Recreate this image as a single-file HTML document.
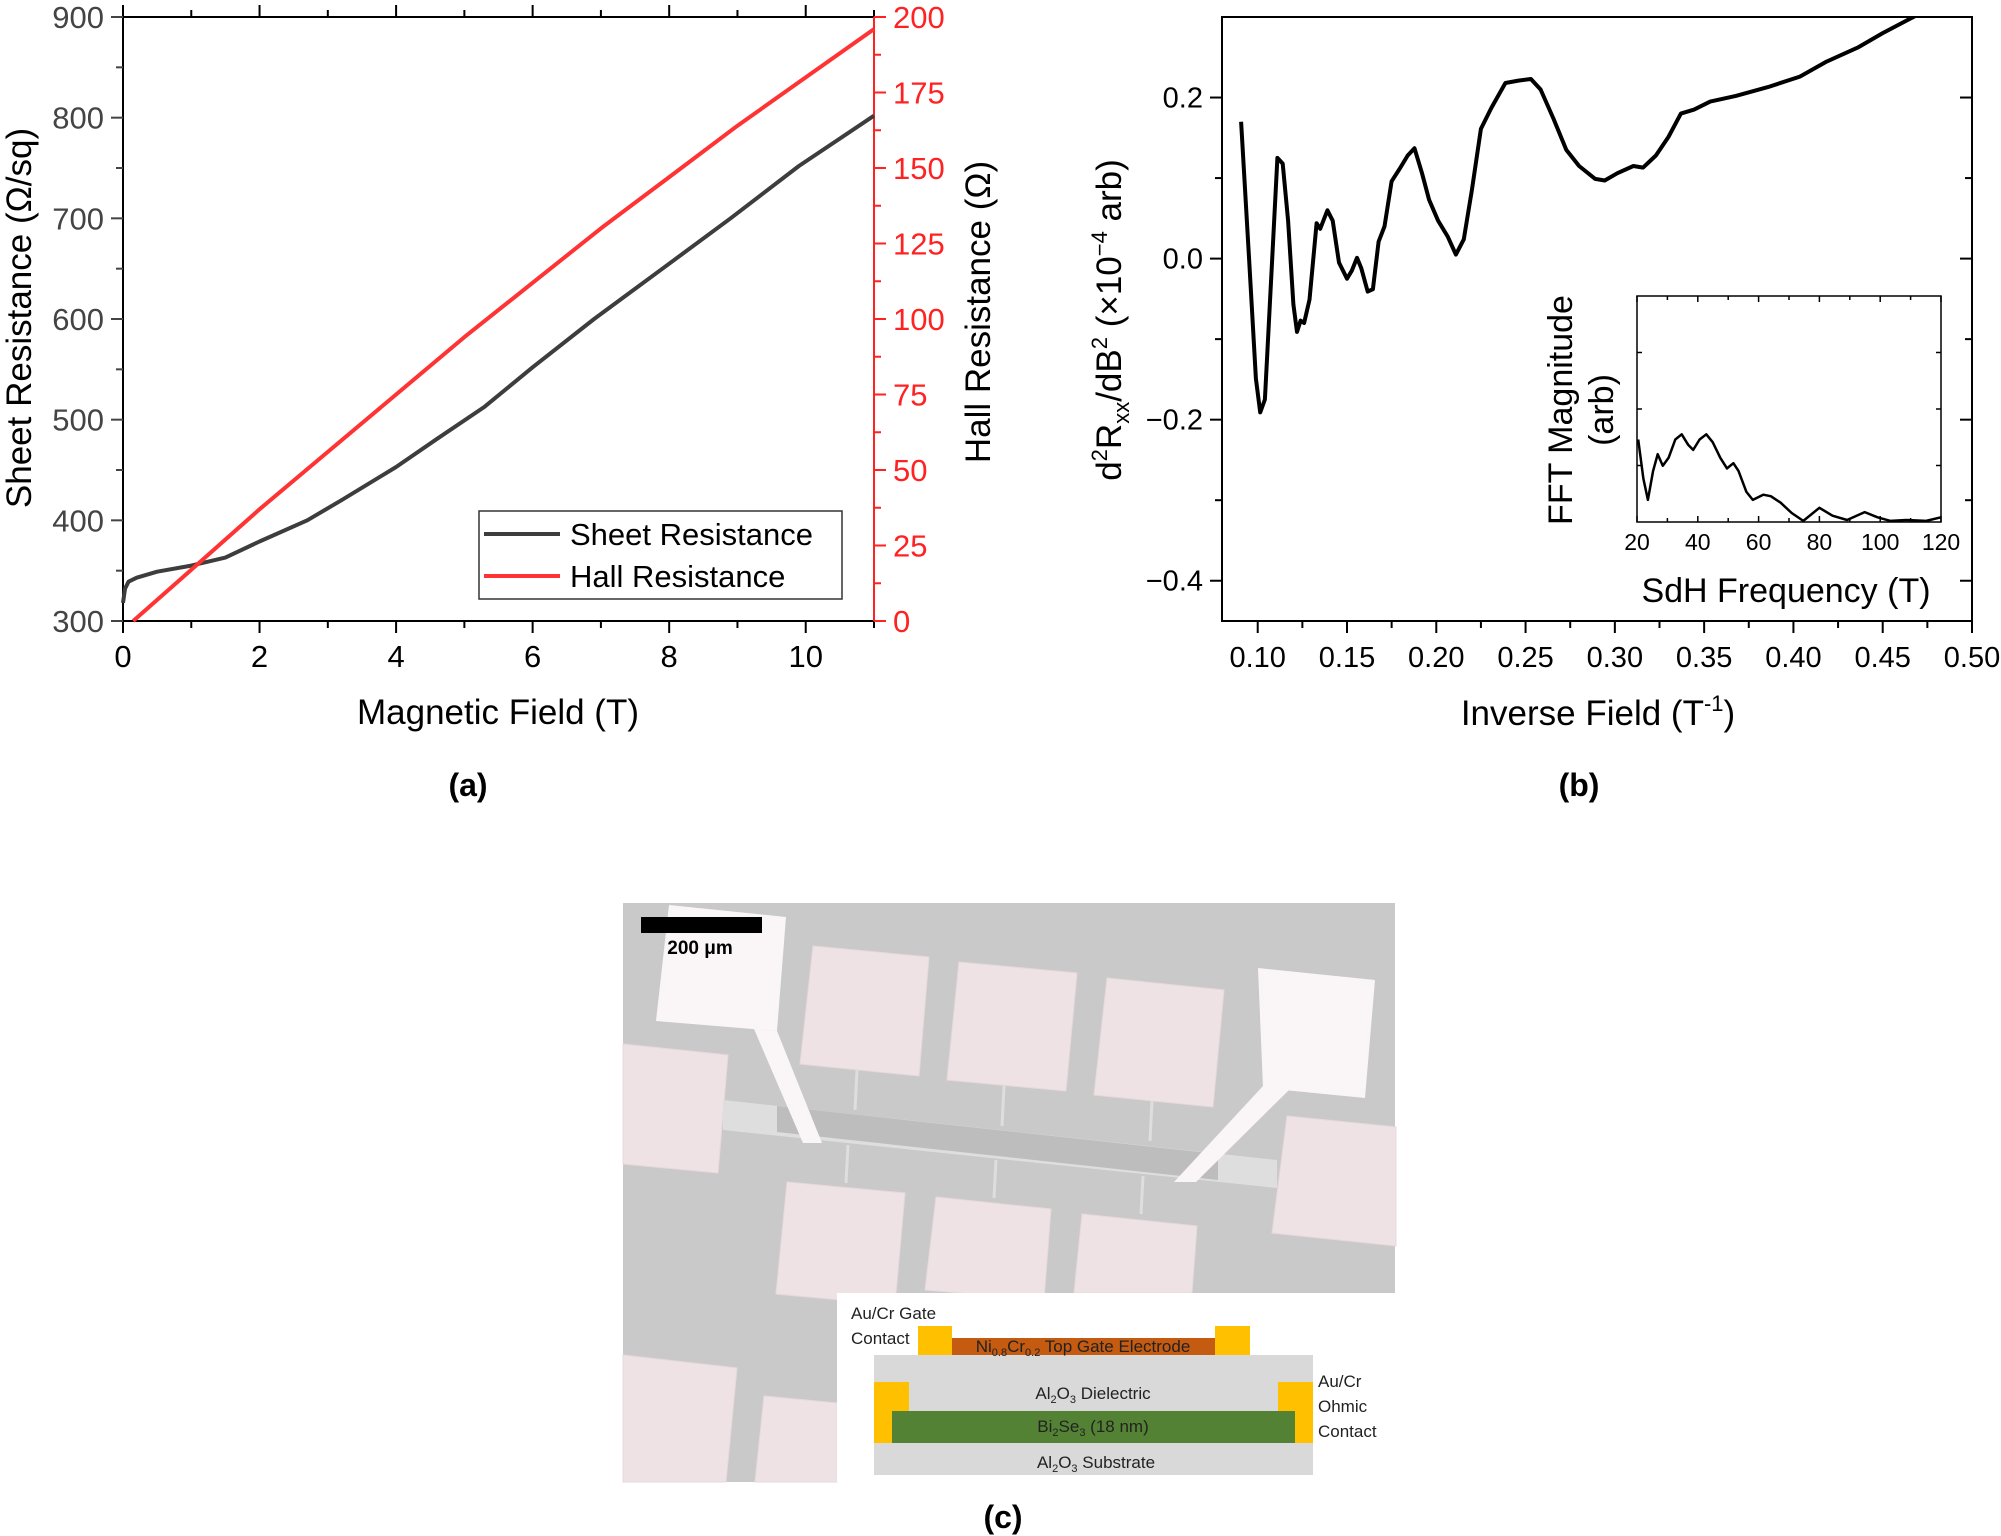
<!DOCTYPE html>
<html><head><meta charset="utf-8">
<style>
html,body{margin:0;padding:0;background:#fff;}
svg{display:block;font-family:"Liberation Sans",sans-serif;}
</style></head>
<body>
<svg id="fig" width="2001" height="1536" viewBox="0 0 2001 1536" xmlns="http://www.w3.org/2000/svg">
<g id="pa"></g>
<g id="pb"></g>
<g id="pc">
  <rect x="623" y="903" width="772" height="579" fill="#c9c9c9"/>
  <g fill="#eee2e4" stroke="#e6d9dc" stroke-width="1">
    <polygon points="623,1044 728,1055 718,1173 623,1164"/>
    <polygon points="1287,1116 1396,1127 1396,1246 1272,1233"/>
    <polygon points="813,946 929,957 919,1076 800,1064"/>
    <polygon points="959,962 1077,973 1066,1091 947,1080"/>
    <polygon points="1107,978 1224,990 1213,1107 1094,1095"/>
    <polygon points="787,1182 905,1193 895,1305 776,1294"/>
    <polygon points="936,1197 1051,1209 1044,1300 925,1290"/>
    <polygon points="1082,1214 1197,1226 1192,1293 1074,1293"/>
    <polygon points="623,1355 737,1368 726,1482 623,1482"/>
    <polygon points="764,1396 837,1403 837,1482 755,1482"/>
  </g>
  <g>
    <polygon points="723,1100 1277,1160 1277,1188 723,1130" fill="#dedede"/>
    <polygon points="777,1106 1218,1154 1218,1180 777,1132" fill="#bdbdbd"/>
    <g stroke="#dedede" stroke-width="3">
      <line x1="857" y1="1070" x2="855" y2="1110"/><line x1="1004" y1="1086" x2="1002" y2="1126"/><line x1="1152" y1="1101" x2="1150" y2="1141"/>
      <line x1="848" y1="1145" x2="846" y2="1183"/><line x1="996" y1="1160" x2="994" y2="1198"/><line x1="1143" y1="1176" x2="1141" y2="1214"/>
    </g>
  </g>
  <g fill="#faf6f7">
    <polygon points="669,905 786,917 777,1031 656,1021"/>
    <polygon points="754,1029 777,1031 822,1143 803,1143"/>
    <polygon points="1258,968 1375,980 1365,1098 1263,1088"/>
    <polygon points="1263,1086 1290,1089 1196,1182 1174,1182"/>
  </g>
  <rect x="641" y="917" width="121" height="16" fill="#000"/>
  <text x="700" y="954" font-size="19" font-weight="bold" text-anchor="middle">200 μm</text>
  <rect x="837" y="1293" width="558" height="189" fill="#fff"/>
  <rect x="874" y="1355" width="439" height="120" fill="#d9d9d9"/>
  <rect x="874" y="1382" width="35" height="61" fill="#ffc000"/>
  <rect x="1278" y="1382" width="35" height="61" fill="#ffc000"/>
  <rect x="892" y="1411" width="403" height="32" fill="#548235"/>
  <rect x="918" y="1326" width="34" height="29" fill="#ffc000"/>
  <rect x="1215" y="1326" width="35" height="29" fill="#ffc000"/>
  <rect x="952" y="1338" width="263" height="17" fill="#c55a11"/>
  <g font-size="17" fill="#222">
    <text x="1083" y="1352" text-anchor="middle">Ni<tspan font-size="11" dy="4">0.8</tspan><tspan dy="-4">Cr</tspan><tspan font-size="11" dy="4">0.2</tspan><tspan dy="-4"> Top Gate Electrode</tspan></text>
    <text x="1093" y="1399" text-anchor="middle">Al<tspan font-size="11" dy="4">2</tspan><tspan dy="-4">O</tspan><tspan font-size="11" dy="4">3</tspan><tspan dy="-4"> Dielectric</tspan></text>
    <text x="1093" y="1432" text-anchor="middle">Bi<tspan font-size="11" dy="4">2</tspan><tspan dy="-4">Se</tspan><tspan font-size="11" dy="4">3</tspan><tspan dy="-4"> (18 nm)</tspan></text>
    <text x="1096" y="1468" text-anchor="middle">Al<tspan font-size="11" dy="4">2</tspan><tspan dy="-4">O</tspan><tspan font-size="11" dy="4">3</tspan><tspan dy="-4"> Substrate</tspan></text>
    <text x="851" y="1319">Au/Cr Gate</text>
    <text x="851" y="1344">Contact</text>
    <text x="1318" y="1387">Au/Cr</text>
    <text x="1318" y="1412">Ohmic</text>
    <text x="1318" y="1437">Contact</text>
  </g>
  <text x="1003" y="1528" font-size="32" font-weight="bold" text-anchor="middle">(c)</text>
</g>
</svg>
<script>
// Panel (a) data
const aFieldSheet = [0,0.03,0.08,0.2,0.5,1,1.5,2,2.7,3.2,4,4.6,5.3,6,6.9,7.9,8.9,9.9,11];
const aSheet = [318,332,339,343,349,355,363,379,400,420,453,481,513,552,600,650,700,752,802];
const aFieldHall = [0.15,1,2,3,4,5,6,7,8,9,10,11];
const aHall = [0,17,37,56,75,94,112,130,147,164,180,196];
const aXTicks = [0,2,4,6,8,10];
const aYLeftTicks = [300,400,500,600,700,800,900];
const aYRightTicks = [0,25,50,75,100,125,150,175,200];
// Panel (b) data
const bX = [0.0907,0.0953,0.099,0.1014,0.104,0.108,0.111,0.114,0.117,0.120,0.122,0.124,0.126,0.129,0.133,0.135,0.139,0.142,0.1455,0.150,0.1527,0.1556,0.158,0.1616,0.1645,0.1677,0.171,0.175,0.1796,0.184,0.1878,0.192,0.196,0.201,0.2065,0.211,0.2154,0.220,0.225,0.2308,0.2387,0.246,0.253,0.2584,0.2656,0.2728,0.28,0.289,0.2943,0.3014,0.3104,0.3158,0.323,0.330,0.337,0.3444,0.3534,0.3677,0.3857,0.4036,0.418,0.436,0.450,0.468];
const bY = [0.170,-0.005,-0.149,-0.191,-0.175,-0.005,0.125,0.118,0.047,-0.057,-0.091,-0.077,-0.080,-0.051,0.044,0.037,0.060,0.047,-0.005,-0.025,-0.015,0.001,-0.012,-0.041,-0.038,0.021,0.040,0.096,0.112,0.128,0.137,0.106,0.073,0.047,0.027,0.005,0.024,0.086,0.161,0.187,0.218,0.221,0.223,0.210,0.174,0.135,0.115,0.099,0.097,0.106,0.115,0.113,0.128,0.151,0.180,0.185,0.195,0.202,0.213,0.226,0.244,0.262,0.280,0.301];
const bXTicks = [0.10,0.15,0.20,0.25,0.30,0.35,0.40,0.45,0.50];
const bYTicks = [-0.4,-0.2,0.0,0.2];
const fftFreq = [20.4,22.1,23.6,25.3,26.8,28.5,30.4,32.6,34.7,36.8,38.5,40.6,42.8,44.9,47.4,49.6,51.7,53.4,56,58.1,61.5,64,67.2,70.9,74.7,80,84.3,89.1,94.9,99.1,103.4,108.7,115.1,120];
const fftMag = [3.65,1.91,0.98,2.26,3.0,2.49,2.84,3.65,3.88,3.42,3.19,3.65,3.88,3.53,2.84,2.37,2.6,2.26,1.33,0.98,1.21,1.14,0.86,0.4,0.05,0.63,0.28,0.09,0.44,0.21,0.05,0.09,0.05,0.21];
const fftTicks = [20,40,60,80,100,120];

const NS = "http://www.w3.org/2000/svg";
function mk(parent, tag, attrs, text){
  const e = document.createElementNS(NS, tag);
  for (const k in attrs) e.setAttribute(k, attrs[k]);
  if (text !== undefined) e.textContent = text;
  parent.appendChild(e);
  return e;
}
function lin(d0,d1,p0,p1){ return v => p0 + (v-d0)/(d1-d0)*(p1-p0); }
function pathD(xs, ys, fx, fy){ return xs.map((v,i)=>(i?'L':'M')+fx(v).toFixed(1)+','+fy(ys[i]).toFixed(1)).join(''); }

// ---------- Panel A ----------
const pa = document.getElementById('pa');
const aL=123, aR=874, aT=17, aB=621;
const ax = lin(0,11,aL,aR), ayL = lin(300,900,aB,aT), ayR = lin(0,200,aB,aT);
let e;
e = mk(pa,'rect',{x:aL,y:aT,width:aR-aL,height:aB-aT,fill:'none',stroke:'#000','stroke-width':2});


for (let v=0; v<=11; v++){
  const major = aXTicks.includes(v);
  e = mk(pa,'line',{x1:ax(v),x2:ax(v),y1:aB,y2:aB+(major?12:7),stroke:'#000','stroke-width':2});
  
  
  e = mk(pa,'line',{x1:ax(v),x2:ax(v),y1:aT,y2:aT-(major?12:7),stroke:'#000','stroke-width':2});
  
  
}
aXTicks.forEach(v=>{
  e = mk(pa,'text',{x:ax(v),y:667,'font-size':31,'text-anchor':'middle'},String(v));
  
  
});
for (let v=300; v<=900; v+=50){
  const major = v%100===0;
  e = mk(pa,'line',{x1:aL,x2:aL-(major?12:7),y1:ayL(v),y2:ayL(v),stroke:'#444','stroke-width':2});
  
  
}
aYLeftTicks.forEach(v=>{
  e = mk(pa,'text',{x:104,y:ayL(v)+11,'font-size':31,'text-anchor':'end',fill:'#444'},String(v));
  
  
});
e = mk(pa,'line',{x1:aR,x2:aR,y1:aT,y2:aB,stroke:'#f22','stroke-width':2});


for (let v=0; v<=200; v+=12.5){
  const major = v%25===0;
  e = mk(pa,'line',{x1:aR,x2:aR+(major?12:7),y1:ayR(v),y2:ayR(v),stroke:'#f22','stroke-width':2});
  
  
}
aYRightTicks.forEach(v=>{
  e = mk(pa,'text',{x:893,y:ayR(v)+11,'font-size':31,'text-anchor':'start',fill:'#f22'},String(v));
  
  
});
e = mk(pa,'path',{d:pathD(aFieldSheet,aSheet,ax,ayL),fill:'none',stroke:'#3d3d3d','stroke-width':4,'stroke-linejoin':'round'});


e = mk(pa,'path',{d:pathD(aFieldHall,aHall,ax,ayR),fill:'none',stroke:'#f33','stroke-width':4,'stroke-linejoin':'round'});


e = mk(pa,'rect',{x:479,y:511,width:363,height:88,fill:'#fff',stroke:'#333','stroke-width':1.5});


e = mk(pa,'line',{x1:484,x2:560,y1:534,y2:534,stroke:'#3d3d3d','stroke-width':4});


e = mk(pa,'text',{x:570,y:545,'font-size':31},'Sheet Resistance');


e = mk(pa,'line',{x1:484,x2:560,y1:576,y2:576,stroke:'#f33','stroke-width':4});


e = mk(pa,'text',{x:570,y:587,'font-size':31},'Hall Resistance');


e = mk(pa,'text',{x:498,y:724,'font-size':35,'text-anchor':'middle'},'Magnetic Field (T)');


e = mk(pa,'text',{x:0,y:0,'font-size':35,'text-anchor':'middle',transform:'translate(31,318) rotate(-90)'},'Sheet Resistance (Ω/sq)');


e = mk(pa,'text',{x:0,y:0,'font-size':35,'text-anchor':'middle',transform:'translate(990,312) rotate(-90)'},'Hall Resistance (Ω)');


e = mk(pa,'text',{x:468,y:796,'font-size':32,'font-weight':'bold','text-anchor':'middle'},'(a)');



// ---------- Panel B ----------
const pb = document.getElementById('pb');
const bL=1222, bR=1972, bT=17, bB=621;
const bx = lin(0.08,0.50,bL,bR), by = lin(-0.45,0.3,bB,bT);
e = mk(pb,'rect',{x:bL,y:bT,width:bR-bL,height:bB-bT,fill:'none',stroke:'#000','stroke-width':2});


for (let i=0;i<=16;i++){
  const v = 0.10 + i*0.025; const major = i%2===0;
  e = mk(pb,'line',{x1:bx(v),x2:bx(v),y1:bB,y2:bB+(major?12:7),stroke:'#000','stroke-width':2});
  
  
}
bXTicks.forEach(v=>{
  e = mk(pb,'text',{x:bx(v),y:667,'font-size':29,'text-anchor':'middle'},v.toFixed(2));
  
  
});
for (let i=0;i<=6;i++){
  const v = -0.4 + i*0.1; const major = i%2===0;
  e = mk(pb,'line',{x1:bL,x2:bL-(major?12:7),y1:by(v),y2:by(v),stroke:'#000','stroke-width':2});
  
  
  e = mk(pb,'line',{x1:bR,x2:bR-(major?12:7),y1:by(v),y2:by(v),stroke:'#000','stroke-width':2});
  
  
}
bYTicks.forEach(v=>{
  e = mk(pb,'text',{x:1203,y:by(v)+10,'font-size':29,'text-anchor':'end'},(v<0?'\u2212':'')+Math.abs(v).toFixed(1));
  
  
});
const clipB = mk(pb,'clipPath',{id:'clipb'});
mk(clipB,'rect',{x:bL,y:bT,width:bR-bL,height:bB-bT});
e = mk(pb,'path',{d:pathD(bX,bY,bx,by),fill:'none',stroke:'#000','stroke-width':4,'stroke-linejoin':'round','clip-path':'url(#clipb)'});


e = mk(pb,'text',{x:1598,y:725,'font-size':35,'text-anchor':'middle'},'');
e.innerHTML = 'Inverse Field (T<tspan font-size="22" dy="-14">-1</tspan><tspan dy="14">)</tspan>';


e = mk(pb,'text',{x:0,y:0,'font-size':35,'text-anchor':'middle',transform:'translate(1121,320) rotate(-90)'},'');
e.innerHTML = 'd<tspan font-size="22" dy="-14">2</tspan><tspan dy="14">R</tspan><tspan font-size="22" dy="8">xx</tspan><tspan dy="-8">/dB</tspan><tspan font-size="22" dy="-14">2</tspan><tspan dy="14"> (×10</tspan><tspan font-size="22" dy="-14">−4</tspan><tspan dy="14"> arb)</tspan>';


e = mk(pb,'text',{x:1579,y:796,'font-size':32,'font-weight':'bold','text-anchor':'middle'},'(b)');



// Inset
const iL=1637, iR=1941, iT=296, iB=522;
const ix = lin(20,120,iL,iR), iy = lin(0,10,iB,iT);
e = mk(pb,'rect',{x:iL,y:iT,width:iR-iL,height:iB-iT,fill:'#fff',stroke:'#000','stroke-width':1.5});


for (let v=20; v<=120; v+=10){
  const major = v%20===0;
  e = mk(pb,'line',{x1:ix(v),x2:ix(v),y1:iB,y2:iB-(major?6:4),stroke:'#000','stroke-width':1.5});
  
  
  e = mk(pb,'line',{x1:ix(v),x2:ix(v),y1:iT,y2:iT+(major?6:4),stroke:'#000','stroke-width':1.5});
  
  
}
for (let i=1;i<=3;i++){
  const yy = iB - i*(iB-iT)/4;
  e = mk(pb,'line',{x1:iL,x2:iL+5,y1:yy,y2:yy,stroke:'#000','stroke-width':1.5});
  
  
  e = mk(pb,'line',{x1:iR,x2:iR-5,y1:yy,y2:yy,stroke:'#000','stroke-width':1.5});
  
  
}
fftTicks.forEach(v=>{
  e = mk(pb,'text',{x:ix(v),y:550,'font-size':23,'text-anchor':'middle'},String(v));
  
  
});
e = mk(pb,'path',{d:pathD(fftFreq,fftMag,ix,iy),fill:'none',stroke:'#000','stroke-width':2.5,'stroke-linejoin':'round'});


e = mk(pb,'text',{x:1786,y:602,'font-size':34,'text-anchor':'middle'},'SdH Frequency (T)');


e = mk(pb,'text',{x:0,y:0,'font-size':34,'text-anchor':'middle',transform:'translate(1572,410) rotate(-90)'},'FFT Magnitude');


e = mk(pb,'text',{x:0,y:0,'font-size':34,'text-anchor':'middle',transform:'translate(1613,410) rotate(-90)'},'(arb)');


</script>
</body></html>
